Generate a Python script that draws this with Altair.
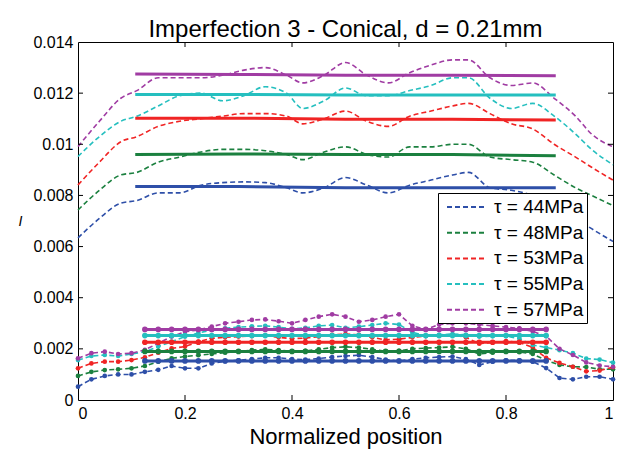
import altair as alt
import pandas as pd

SERIES = ["τ = 44MPa", "τ = 48MPa", "τ = 53MPa", "τ = 55MPa", "τ = 57MPa"]
COLORS = ["#2E4FA8", "#1B803F", "#F02424", "#25BFBF", "#A03CA3"]

# ---- upper group: measured (dashed) ----
X_TOP = [0, 0.04, 0.08, 0.11, 0.15, 0.19, 0.23, 0.27, 0.31, 0.35, 0.39, 0.42, 0.46,
         0.50, 0.54, 0.58, 0.62, 0.66, 0.70, 0.73, 0.77, 0.81, 0.85, 0.89, 0.93, 0.96, 1.0]
TOP_44 = [0.00634, 0.0071, 0.0077, 0.0078, 0.0081, 0.0081, 0.0084, 0.0085, 0.00853, 0.0085,
          0.0083, 0.0081, 0.0083, 0.0087, 0.0084, 0.0081, 0.0084, 0.0086, 0.0088, 0.0089,
          0.0083, 0.0082, 0.0080, 0.0076, 0.0071, 0.0067, 0.0062]
TOP_48 = [0.00743, 0.0082, 0.0088, 0.0089, 0.0093, 0.0095, 0.0097, 0.0098, 0.0098, 0.00975,
          0.0096, 0.0094, 0.0097, 0.0099, 0.0096, 0.0095, 0.0099, 0.0099, 0.0100, 0.0100,
          0.0095, 0.0094, 0.0093, 0.0088, 0.0083, 0.0080, 0.0076]
TOP_53 = [0.00841, 0.0093, 0.0101, 0.0103, 0.0107, 0.0109, 0.0110, 0.0111, 0.0112, 0.0112,
          0.0111, 0.0108, 0.0110, 0.0113, 0.0109, 0.0107, 0.0111, 0.0113, 0.0115, 0.0116,
          0.0112, 0.0108, 0.0106, 0.0100, 0.0095, 0.0091, 0.0086]
TOP_55 = [0.00952, 0.0103, 0.0109, 0.0111, 0.0115, 0.0119, 0.0120, 0.0117, 0.0119, 0.01225,
          0.0120, 0.0114, 0.0117, 0.0122, 0.0119, 0.0119, 0.0121, 0.0123, 0.0126, 0.0126,
          0.0118, 0.0114, 0.0116, 0.0111, 0.0104, 0.0098, 0.0092]
TOP_57 = [0.00991, 0.0109, 0.0118, 0.0121, 0.0126, 0.0126, 0.0126, 0.0127, 0.0129, 0.0130,
          0.0127, 0.0124, 0.0127, 0.0132, 0.0127, 0.0124, 0.0128, 0.0131, 0.0133, 0.0133,
          0.0126, 0.0123, 0.0124, 0.0118, 0.0111, 0.0104, 0.0099]

# ---- upper group: fitted (solid) ----
X_TOP_FIT = [0.107, 0.3, 0.5, 0.7, 0.893]
TOP_FIT_44 = [0.00835, 0.00835, 0.00830, 0.00830, 0.00830]
TOP_FIT_48 = [0.00960, 0.00962, 0.00960, 0.00960, 0.00955]
TOP_FIT_53 = [0.01102, 0.01102, 0.01098, 0.01098, 0.01095]
TOP_FIT_55 = [0.01195, 0.01195, 0.01193, 0.01193, 0.01193]
TOP_FIT_57 = [0.01275, 0.01273, 0.01270, 0.01270, 0.01268]

# ---- lower group: measured (dashed + markers) ----
X_BOT = [0, 0.025, 0.05, 0.075, 0.1, 0.125, 0.15, 0.175, 0.2, 0.225, 0.25, 0.275, 0.3,
         0.325, 0.35, 0.375, 0.4, 0.425, 0.45, 0.475, 0.5, 0.525, 0.55, 0.575, 0.6, 0.625,
         0.65, 0.675, 0.7, 0.725, 0.75, 0.775, 0.8, 0.825, 0.85, 0.875, 0.9, 0.925, 0.95,
         0.975, 1.0]
BOT_44 = [0.00052, 0.00081, 0.00094, 0.00100, 0.00100, 0.00110, 0.00118, 0.00133, 0.00124,
          0.00124, 0.00143, 0.00152, 0.00155, 0.00160, 0.00165, 0.00165, 0.00160, 0.00158,
          0.00162, 0.00168, 0.00172, 0.00175, 0.00168, 0.00158, 0.00152, 0.00160, 0.00165,
          0.00168, 0.00170, 0.00160, 0.00137, 0.00150, 0.00155, 0.00155, 0.00150, 0.00125,
          0.00086, 0.00081, 0.00091, 0.00091, 0.00081]
BOT_48 = [0.00094, 0.00110, 0.00117, 0.00120, 0.00124, 0.00133, 0.00150, 0.00163, 0.00170,
          0.00175, 0.00180, 0.00185, 0.00190, 0.00195, 0.00198, 0.00195, 0.00190, 0.00192,
          0.00198, 0.00205, 0.00208, 0.00205, 0.00198, 0.00190, 0.00192, 0.00200, 0.00203,
          0.00205, 0.00208, 0.00200, 0.00180, 0.00185, 0.00190, 0.00188, 0.00180, 0.00155,
          0.00137, 0.00130, 0.00129, 0.00120, 0.00120]
BOT_53 = [0.00124, 0.00143, 0.00150, 0.00150, 0.00156, 0.00167, 0.00185, 0.00202, 0.00209,
          0.00228, 0.00241, 0.00245, 0.00248, 0.00250, 0.00252, 0.00245, 0.00240, 0.00242,
          0.00248, 0.00255, 0.00258, 0.00255, 0.00245, 0.00235, 0.00238, 0.00245, 0.00250,
          0.00252, 0.00255, 0.00245, 0.00220, 0.00225, 0.00230, 0.00225, 0.00205, 0.00165,
          0.00145, 0.00130, 0.00112, 0.00115, 0.00128]
BOT_55 = [0.00156, 0.00172, 0.00176, 0.00172, 0.00180, 0.00189, 0.00209, 0.00228, 0.00248,
          0.00262, 0.00274, 0.00280, 0.00285, 0.00288, 0.00290, 0.00285, 0.00278, 0.00282,
          0.00290, 0.00293, 0.00282, 0.00287, 0.00293, 0.00300, 0.00295, 0.00265, 0.00250,
          0.00255, 0.00258, 0.00255, 0.00248, 0.00250, 0.00250, 0.00240, 0.00215, 0.00205,
          0.00195, 0.00183, 0.00162, 0.00158, 0.00146]
BOT_57 = [0.00163, 0.00183, 0.00189, 0.00180, 0.00183, 0.00196, 0.00222, 0.00248, 0.00267,
          0.00274, 0.00287, 0.00300, 0.00306, 0.00313, 0.00315, 0.00308, 0.00300, 0.00313,
          0.00326, 0.00335, 0.00326, 0.00306, 0.00313, 0.00326, 0.00335, 0.00290, 0.00276,
          0.00295, 0.00300, 0.00300, 0.00295, 0.00290, 0.00285, 0.00280, 0.00268, 0.00250,
          0.00200, 0.00176, 0.00147, 0.00135, 0.00130]

# ---- lower group: fitted (solid + markers), constant level over the middle region ----
X_BOT_FIT = [0.125, 0.15, 0.175, 0.2, 0.225, 0.25, 0.275, 0.3, 0.325, 0.35, 0.375, 0.4,
             0.425, 0.45, 0.475, 0.5, 0.525, 0.55, 0.575, 0.6, 0.625, 0.65, 0.675, 0.7,
             0.725, 0.75, 0.775, 0.8, 0.825, 0.85, 0.875]
BOT_FIT_LEVEL = [0.00153, 0.00190, 0.00226, 0.00252, 0.00276]

X_TICKS = [0, 0.2, 0.4, 0.6, 0.8, 1.0]
Y_TICKS = [0, 0.002, 0.004, 0.006, 0.008, 0.01, 0.012, 0.014]

FONT = "Liberation Sans"
W, H = 535, 358


def long_table(xs, series_lists):
    rows = []
    for name, ys in zip(SERIES, series_lists):
        for xv, yv in zip(xs, ys):
            rows.append({"x": xv, "y": yv, "series": name})
    return pd.DataFrame(rows)


top_df = long_table(X_TOP, [TOP_44, TOP_48, TOP_53, TOP_55, TOP_57])
top_fit_df = long_table(X_TOP_FIT, [TOP_FIT_44, TOP_FIT_48, TOP_FIT_53, TOP_FIT_55, TOP_FIT_57])
bot_df = long_table(X_BOT, [BOT_44, BOT_48, BOT_53, BOT_55, BOT_57])
bot_fit_df = long_table(X_BOT_FIT, [[lvl] * len(X_BOT_FIT) for lvl in BOT_FIT_LEVEL])

x_enc = alt.X(
    "x:Q",
    scale=alt.Scale(domain=[0, 1], nice=False, zero=False),
    axis=alt.Axis(values=X_TICKS, format="~g", title="Normalized position",
                  titleFontSize=22, titleFont=FONT, titleFontWeight="normal",
                  titleColor="black", titleY=43, titleBaseline="alphabetic",
                  labelFontSize=16, labelFont=FONT, labelColor="black",
                  labelPadding=5, ticks=False, domain=False, grid=False),
)
y_enc = alt.Y(
    "y:Q",
    scale=alt.Scale(domain=[0, 0.014], nice=False, zero=False),
    axis=alt.Axis(values=Y_TICKS, format="~g", title="I",
                  titleFontSize=14, titleFont=FONT, titleFontWeight="normal",
                  titleFontStyle="italic", titleAngle=0, titleColor="black",
                  titleX=-58, titleY=179, titleAlign="center", titleBaseline="middle",
                  labelFontSize=16, labelFont=FONT, labelColor="black",
                  labelPadding=5, ticks=False, domain=False, grid=False),
)

legend = alt.Legend(
    title=None, orient="none", legendX=360, legendY=151,
    fillColor="white", strokeColor="black", padding=3, rowPadding=4.7,
    labelFontSize=19, labelFont=FONT, labelColor="black", labelOffset=31,
    labelLimit=300, symbolType="M-0.5,0H3.5", symbolSize=400,
    symbolStrokeWidth=2, symbolDash=[5, 3], symbolFillColor="transparent",
)

color_leg = alt.Color("series:N", scale=alt.Scale(domain=SERIES, range=COLORS),
                      sort=SERIES, legend=legend)
color_no = alt.Color("series:N", scale=alt.Scale(domain=SERIES, range=COLORS),
                     sort=SERIES, legend=None)

top_dash = alt.Chart(top_df).mark_line(
    strokeDash=[5, 3], strokeWidth=1.6, interpolate="monotone"
).encode(x=x_enc, y=y_enc, color=color_leg)

top_fit = alt.Chart(top_fit_df).mark_line(strokeWidth=3).encode(
    x=x_enc, y=y_enc, color=color_no)

bot_dash = alt.Chart(bot_df).mark_line(
    strokeDash=[5, 3], strokeWidth=1.6,
    point=alt.OverlayMarkDef(filled=True, size=22, strokeDash=[1, 0])
).encode(x=x_enc, y=y_enc, color=color_no)

bot_fit = alt.Chart(bot_fit_df).mark_line(
    strokeWidth=3, point=alt.OverlayMarkDef(filled=True, size=32)
).encode(x=x_enc, y=y_enc, color=color_no)

xt_df = pd.DataFrame({"x": X_TICKS[1:-1]})
yt_df = pd.DataFrame({"y": Y_TICKS[1:-1]})

tick_b = alt.Chart(xt_df).mark_rule(color="black", strokeWidth=1).encode(
    x=x_enc, y=alt.value(H), y2=alt.value(H - 5))
tick_t = alt.Chart(xt_df).mark_rule(color="black", strokeWidth=1).encode(
    x=x_enc, y=alt.value(0), y2=alt.value(5))
tick_l = alt.Chart(yt_df).mark_rule(color="black", strokeWidth=1).encode(
    y=y_enc, x=alt.value(0), x2=alt.value(5))
tick_r = alt.Chart(yt_df).mark_rule(color="black", strokeWidth=1).encode(
    y=y_enc, x=alt.value(W), x2=alt.value(W - 5))

chart = alt.layer(
    top_dash, top_fit, bot_dash, bot_fit, tick_b, tick_t, tick_l, tick_r
).properties(
    width=W, height=H,
    title=alt.TitleParams("Imperfection 3 - Conical, d = 0.21mm", fontSize=24,
                          font=FONT, fontWeight="normal", color="black",
                          anchor="middle", frame="group", baseline="alphabetic",
                          offset=0, dy=27),
    autosize=alt.AutoSizeParams(type="none"),
    padding={"left": 78, "top": 42, "right": 8, "bottom": 50},
    background="white",
).configure_view(
    stroke="black", strokeWidth=1
)

chart.save("out.html", embed_options={"renderer": "svg", "actions": False})
